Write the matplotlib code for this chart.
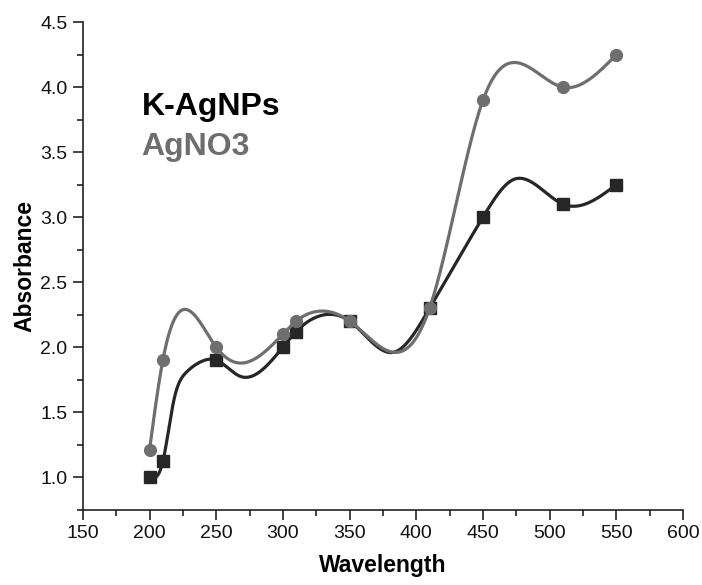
import numpy as np
import matplotlib
matplotlib.use("Agg")
import matplotlib.pyplot as plt
from matplotlib.ticker import MultipleLocator

# measured points (markers)
wavelength = [200, 210, 250, 300, 310, 350, 410, 450, 510, 550]
k_agnps = [1.00, 1.12, 1.90, 2.00, 2.12, 2.20, 2.30, 3.00, 3.10, 3.25]
agno3 = [1.21, 1.90, 2.00, 2.10, 2.20, 2.20, 2.30, 3.90, 4.00, 4.25]
series_names = ["K-AgNPs", "AgNO3"]

# smoothed line traces (markers plus turning points)
k_line_x = [200, 210, 218, 227, 238, 250, 268, 300, 310, 332, 350, 383, 410, 450, 473, 510, 550]
k_line_y = [1.00, 1.12, 1.58, 1.80, 1.885, 1.90, 1.775, 2.00, 2.12, 2.25, 2.20, 1.96, 2.30, 3.00, 3.29, 3.10, 3.25]
a_line_x = [200, 210, 227, 250, 268, 300, 310, 328, 350, 383, 410, 450, 473, 510, 550]
a_line_y = [1.21, 1.90, 2.29, 2.00, 1.877, 2.10, 2.20, 2.277, 2.20, 1.96, 2.30, 3.90, 4.19, 4.00, 4.25]


def natural_spline(x, y, xs):
    x = np.asarray(x, float)
    y = np.asarray(y, float)
    n = len(x)
    h = np.diff(x)
    A = np.zeros((n, n))
    b = np.zeros(n)
    A[0, 0] = 1
    A[-1, -1] = 1
    for i in range(1, n - 1):
        A[i, i - 1] = h[i - 1]
        A[i, i] = 2 * (h[i - 1] + h[i])
        A[i, i + 1] = h[i]
        b[i] = 3 * ((y[i + 1] - y[i]) / h[i] - (y[i] - y[i - 1]) / h[i - 1])
    c = np.linalg.solve(A, b)
    bb = (y[1:] - y[:-1]) / h - h * (2 * c[:-1] + c[1:]) / 3
    d = (c[1:] - c[:-1]) / (3 * h)
    idx = np.clip(np.searchsorted(x, xs) - 1, 0, n - 2)
    dx = xs - x[idx]
    return y[idx] + bb[idx] * dx + c[idx] * dx ** 2 + d[idx] * dx ** 3


plt.rcParams['font.family'] = ['Liberation Sans', 'DejaVu Sans']
fig = plt.figure(figsize=(7.02, 5.85), dpi=100)
ax = fig.add_axes([0.118, 0.129, 0.855, 0.833])
ax.set_xlim(150, 600)
ax.set_ylim(0.75, 4.5)

k_col = "#262626"
a_col = "#6e6e6e"
xs = np.linspace(200, 550, 1400)
ax.plot(xs, natural_spline(k_line_x, k_line_y, xs), color=k_col, lw=2.3, zorder=2)
ax.plot(wavelength, k_agnps, 's', color=k_col, ms=8, zorder=3)
ax.plot(xs, natural_spline(a_line_x, a_line_y, xs), color=a_col, lw=2.3, zorder=4)
ax.plot(wavelength, agno3, 'o', color=a_col, ms=8.5, zorder=5)

ax.xaxis.set_major_locator(MultipleLocator(50))
ax.xaxis.set_minor_locator(MultipleLocator(25))
ax.yaxis.set_minor_locator(MultipleLocator(0.25))
yt = [1.0, 1.5, 2.0, 2.5, 3.0, 3.5, 4.0, 4.5]
ax.set_yticks(yt)
ax.set_yticklabels([f"{v:.1f}" for v in yt])
ax.spines['top'].set_visible(False)
ax.spines['right'].set_visible(False)
for s in ['left', 'bottom']:
    ax.spines[s].set_linewidth(1.2)
    ax.spines[s].set_color('#222222')
ax.tick_params(which='major', length=7, width=1.2, color='#222222', labelsize=14,
               labelcolor='#111111', pad=4, direction='out')
ax.tick_params(which='minor', length=4, width=1.2, color='#222222', direction='out')

ax.set_xlabel("Wavelength", fontsize=16.5, fontweight='bold', labelpad=9)
ax.set_ylabel("Absorbance", fontsize=16.5, fontweight='bold', labelpad=3)

ax.text(0.098, 0.809, series_names[0], transform=ax.transAxes, fontsize=23, fontweight='bold',
        color='#000000', va='baseline')
ax.text(0.098, 0.727, series_names[1], transform=ax.transAxes, fontsize=23, fontweight='bold',
        color=a_col, va='baseline')

fig.savefig("out.png", dpi=100, facecolor='white')
